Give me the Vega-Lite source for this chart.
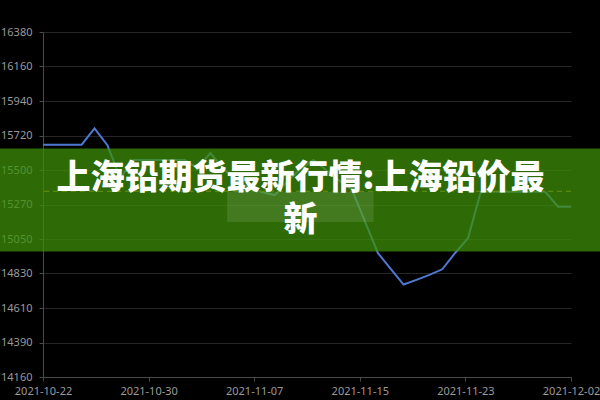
{
  "$schema": "https://vega.github.io/schema/vega-lite/v6.json",
  "width": 528,
  "height": 345,
  "autosize": "none",
  "padding": {"left": 43, "top": 32, "right": 29, "bottom": 23},
  "background": "#000000",
  "config": {
    "view": {"stroke": null},
    "axis": {
      "labelFont": "Noto Sans",
      "labelFontSize": 11,
      "labelColor": "#9a9a9a",
      "domainColor": "#4a4a4a",
      "tickColor": "#4a4a4a",
      "gridColor": "#262626",
      "labelOverlap": false,
      "labelFlush": false,
      "tickSize": 4,
      "title": null
    },
    "axisX": {"grid": false, "labelPadding": 4},
    "axisY": {"grid": true, "labelPadding": 7}
  },
  "data": {
    "values": [
      {"date": "2021-10-22T00:00", "price": 15655},
      {"date": "2021-10-23T00:00", "price": 15655},
      {"date": "2021-10-24T00:00", "price": 15655},
      {"date": "2021-10-25T00:00", "price": 15655},
      {"date": "2021-10-26T00:00", "price": 15760},
      {"date": "2021-10-27T00:00", "price": 15652},
      {"date": "2021-10-28T00:00", "price": 15440},
      {"date": "2021-10-29T00:00", "price": 15556},
      {"date": "2021-10-30T00:00", "price": 15556},
      {"date": "2021-10-31T00:00", "price": 15556},
      {"date": "2021-11-01T00:00", "price": 15556},
      {"date": "2021-11-02T00:00", "price": 15556},
      {"date": "2021-11-03T00:00", "price": 15505},
      {"date": "2021-11-04T00:00", "price": 15601},
      {"date": "2021-11-05T00:00", "price": 15500},
      {"date": "2021-11-06T00:00", "price": 15420},
      {"date": "2021-11-07T00:00", "price": 15380},
      {"date": "2021-11-08T00:00", "price": 15350},
      {"date": "2021-11-09T00:00", "price": 15330},
      {"date": "2021-11-10T00:00", "price": 15420},
      {"date": "2021-11-11T00:00", "price": 15500},
      {"date": "2021-11-12T00:00", "price": 15556},
      {"date": "2021-11-13T00:00", "price": 15490},
      {"date": "2021-11-14T00:00", "price": 15425},
      {"date": "2021-11-15T00:00", "price": 15363},
      {"date": "2021-11-16T00:00", "price": 15162},
      {"date": "2021-11-17T00:00", "price": 14958},
      {"date": "2021-11-18T00:00", "price": 14856},
      {"date": "2021-11-19T00:00", "price": 14755},
      {"date": "2021-11-20T00:00", "price": 14785},
      {"date": "2021-11-21T00:00", "price": 14817},
      {"date": "2021-11-22T00:00", "price": 14853},
      {"date": "2021-11-23T00:00", "price": 14958},
      {"date": "2021-11-24T00:00", "price": 15053},
      {"date": "2021-11-25T00:00", "price": 15352},
      {"date": "2021-11-26T00:00", "price": 15352},
      {"date": "2021-11-27T00:00", "price": 15352},
      {"date": "2021-11-28T00:00", "price": 15352},
      {"date": "2021-11-29T00:00", "price": 15352},
      {"date": "2021-11-30T00:00", "price": 15352},
      {"date": "2021-12-01T00:00", "price": 15256},
      {"date": "2021-12-02T00:00", "price": 15256}
    ]
  },
  "layer": [
    {
      "mark": {"type": "line", "color": "#5078d2", "strokeWidth": 2},
      "encoding": {
        "x": {
          "field": "date",
          "type": "temporal",
          "scale": {
            "domain": [
              {"year": 2021, "month": 10, "date": 22},
              {"year": 2021, "month": 12, "date": 2}
            ],
            "nice": false
          },
          "axis": {
            "format": "%Y-%m-%d",
            "tickCount": 12,
            "values": [
              {"year": 2021, "month": 10, "date": 22},
              {"year": 2021, "month": 10, "date": 30, "hours": 4, "minutes": 48},
              {"year": 2021, "month": 11, "date": 7, "hours": 9, "minutes": 36},
              {"year": 2021, "month": 11, "date": 15, "hours": 14, "minutes": 24},
              {"year": 2021, "month": 11, "date": 23, "hours": 19, "minutes": 12},
              {"year": 2021, "month": 12, "date": 2}
            ]
          }
        },
        "y": {
          "field": "price",
          "type": "quantitative",
          "scale": {"domain": [14160, 16380], "nice": false, "zero": false},
          "axis": {
            "tickCount": 12,
            "values": [14160, 14382, 14604, 14826, 15048, 15270, 15492, 15714, 15936, 16158, 16380],
            "labelExpr": "['14160','14390','14610','14830','15050','15270','15500','15720','15940','16160','16380'][round((datum.value-14160)/222)]"
          }
        }
      }
    },
    {
      "mark": {"type": "rule", "color": "#e8912e", "strokeWidth": 1, "strokeDash": [5, 4]},
      "encoding": {
        "y": {"aggregate": "mean", "field": "price", "type": "quantitative"}
      }
    },
    {
      "data": {"values": [{}]},
      "mark": {"type": "rect", "fill": "#3d8f09", "opacity": 0.75},
      "encoding": {
        "x": {"datum": {"year": 2021, "month": 10, "date": 18}, "type": "temporal"},
        "x2": {"datum": {"year": 2021, "month": 12, "date": 5}},
        "y": {"datum": 15631, "type": "quantitative"},
        "y2": {"datum": 14967}
      }
    },
    {
      "data": {"values": [{}]},
      "mark": {"type": "rect", "fill": "#ffffff", "opacity": 0.1},
      "encoding": {
        "x": {"datum": {"year": 2021, "month": 11, "date": 5, "hours": 7}, "type": "temporal"},
        "x2": {"datum": {"year": 2021, "month": 11, "date": 16, "hours": 16}},
        "y": {"datum": 15350, "type": "quantitative"},
        "y2": {"datum": 15158}
      }
    },
    {
      "data": {"values": [{}]},
      "mark": {
        "type": "text",
        "text": ["上海铅期货最新行情:上海铅价最", "新"],
        "font": "Noto Sans CJK SC",
        "fontWeight": 900,
        "fontSize": 34,
        "lineHeight": 42,
        "color": "#ffffff",
        "align": "center",
        "baseline": "middle"
      },
      "encoding": {
        "x": {"datum": {"year": 2021, "month": 11, "date": 11}, "type": "temporal"},
        "y": {"datum": 15433, "type": "quantitative"}
      }
    }
  ]
}
